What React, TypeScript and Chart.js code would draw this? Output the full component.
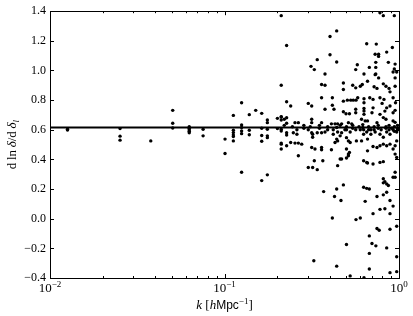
import { useEffect, useRef } from "react";
import { Chart, registerables } from "chart.js";

Chart.register(...registerables);

// Measured response d ln δ / d δ_l per k-bin: [k, values at that k]
const lowKColumns: [number, number[]][] = [
  [0.0126, [0.604, 0.598]],
  [0.0252, [0.608, 0.557, 0.53]],
  [0.0378, [0.525]],
  [0.0505, [0.731, 0.644, 0.612]],
  [0.0628, [0.62, 0.61, 0.6, 0.59, 0.58]],
  [0.0754, [0.604, 0.559]],
  [0.1007, [0.537, 0.44]],
  [0.1124, [0.697, 0.597, 0.581, 0.565, 0.554, 0.525]],
  [0.1253, [0.782, 0.633, 0.615, 0.592, 0.574, 0.313]],
  [0.1387, [0.702, 0.597, 0.566]],
  [0.151, [0.731]],
  [0.1634, [0.711, 0.61, 0.561, 0.523, 0.257]],
  [0.176, [0.666, 0.648, 0.604, 0.559, 0.547, 0.296]],
  [0.201, [0.677, 0.608]],
];

const midKColumns: [number, number[]][] = [
  [0.2114, [1.37, 0.9, 0.686, 0.666, 0.604, 0.592, 0.51, 0.47, 0.688, 0.503]],
  [0.22, [0.671, 0.63]],
  [0.227, [1.169, 0.789, 0.681, 0.644, 0.58, 0.564, 0.492]],
  [0.2395, [0.76, 0.514]],
  [0.245, [0.62]],
  [0.248, [0.58]],
  [0.2535, [0.648, 0.51]],
  [0.26, [0.6, 0.57]],
  [0.265, [0.648, 0.51, 0.425]],
  [0.277, [0.503]],
  [0.285, [0.61, 0.63]],
  [0.302, [0.778, 0.6, 0.346]],
  [0.31, [0.62]],
  [0.3131, [1.028]],
  [0.316, [0.76, 0.671, 0.648, 0.58, 0.48]],
  [0.32, [0.57, 0.55, 0.346]],
  [0.325, [-0.284]],
  [0.3271, [1.006, 0.391]],
  [0.33, [0.47]],
  [0.34, [1.073, 0.58, 0.331]],
  [0.35, [0.61, 0.63]],
  [0.36, [0.905, 0.816, 0.648, 0.58, 0.48, 0.465]],
  [0.366, [0.391]],
  [0.37, [0.183]],
  [0.3767, [0.976, 0.9, 0.738, 0.585]],
  [0.39, [0.62, 0.6]],
  [0.4024, [1.229, 1.106]],
  [0.41, [0.64, 0.465]],
  [0.415, [0.816, 0.765, 0.005]],
  [0.42, [0.6, 0.57]],
  [0.424, [0.738]],
  [0.427, [0.15]],
  [0.43, [0.64, 0.514]],
  [0.4395, [1.267, 1.057, 0.537, 0.2, -0.32, 0.615]],
  [0.445, [0.64, 0.585, 0.525, 0.358]],
  [0.46, [0.559, 0.403, 0.63]],
  [0.465, [0.123]],
  [0.469, [0.64, 0.58, 0.403]],
  [0.48, [0.916, 0.872, 0.793, 0.722, 0.228]],
  [0.49, [0.6]],
  [0.497, [0.708]],
];

const highKColumns: [number, number[]][] = [
  [0.5, [0.547, 0.47, 0.41, -0.174, 0.62, 0.6]],
  [0.506, [0.8]],
  [0.513, [0.648, 0.525, 0.436, 0.425]],
  [0.52, [0.708, 0.447]],
  [0.525, [0.585, 0.514, -0.386]],
  [0.529, [0.8]],
  [0.536, [0.64]],
  [0.543, [0.9, 0.61, 0.63]],
  [0.547, [0.8]],
  [0.565, [1.006, 0.883, 0.738, 0.715, 0.6]],
  [0.567, [0.8, -0.006]],
  [0.57, [0.525]],
  [0.5768, [1.039]],
  [0.58, [0.816]],
  [0.59, [0.62]],
  [0.6, [0.894, 0.6, 0.005]],
  [0.61, [0.671, 0.525]],
  [0.616, [0.905]],
  [0.62, [0.615, 0.635]],
  [0.627, [0.391, 0.212, 0.6, 0.57]],
  [0.63, [0.976, 0.809, 0.782, 0.744, 0.726, 0.704, -0.398]],
  [0.64, [0.66, 0.117]],
  [0.653, [1.18, 0.38, 0.205, 0.585]],
  [0.66, [0.927, 0.537, 0.458, 0.376, 0.66]],
  [0.67, [0.62, 0.6]],
  [0.676, [1.021, 0.2, -0.116, -0.234, -0.339]],
  [0.68, [0.816]],
  [0.69, [0.6, 0.57]],
  [0.7, [0.715, -0.167]],
  [0.71, [0.805, 0.748, 0.487, 0.369, 0.034]],
  [0.72, [0.89, 0.62, 0.6]],
  [0.73, [1.11, 0.972, 0.585]],
  [0.736, [1.055, 1.021, 0.976]],
  [0.737, [-0.183]],
  [0.741, [1.178]],
  [0.748, [0.879, 0.648, 0.48, -0.066, 0.15]],
  [0.76, [0.61, 0.63]],
  [0.764, [1.11, 1.095, 0.95]],
  [0.77, [-0.078]],
  [0.778, [1.39, 0.816, 0.704, 0.492, 0.38, 0.063, 0.57]],
  [0.79, [0.6]],
  [0.8, [0.778]],
  [0.813, [1.37, 0.91, 0.682, 0.503, 0.385, 0.55, 0.27, 0.242, 0.161]],
  [0.82, [0.805]],
  [0.83, [0.726, 0.067, 0.25]],
  [0.842, [0.894, 0.671, 0.62, 0.61]],
  [0.85, [1.124, 0.748, 0.492, 0.585, 0.235, 0.179, -0.197]],
  [0.869, [1.055, 0.224]],
  [0.877, [0.879, 0.6, 0.63]],
  [0.888, [0.856, 0.76, 0.503, 0.57, 0.034, -0.071, -0.364, 0.123]],
  [0.91, [0.61]],
  [0.916, [1.155]],
  [0.925, [0.99, 0.816, 0.715, 0.66, 0.47, 0.28, 0.6, 0.085]],
  [0.94, [1.37, 1.01, 0.62, 0.59]],
  [0.95, [1.043, 0.95, 0.894, 0.731, 0.65, 0.492, 0.436, 0.313, 0.28]],
  [0.955, [0.782]],
  [0.97, [0.99, 0.525, 0.413, 0.585, -0.051, -0.257, -0.357]],
  [0.98, [0.6, 0.63, 0.61]],
];

const fitValue = 0.615;
const xMin = 0.01;
const xMax = 1;
const yMin = -0.4;
const yMax = 1.4;
const yStep = 0.2;
const xMajorTicks = [0.01, 0.1, 1];
const xTickExponents = ["\u22122", "\u22121", "0"];
const xMinorMultipliers = [2, 3, 4, 5, 6, 7, 8, 9];

const SERIF = "'Liberation Serif', 'DejaVu Serif', serif";
const SANS = "'Liberation Sans', 'DejaVu Sans', sans-serif";

type Seg = { text: string; font: string; dy?: number };

function drawRich(ctx: CanvasRenderingContext2D, segs: Seg[], cx: number, y: number) {
  let total = 0;
  const widths = segs.map((s) => {
    ctx.font = s.font;
    const w = ctx.measureText(s.text).width;
    total += w;
    return w;
  });
  let x = cx - total / 2;
  ctx.textAlign = "left";
  ctx.textBaseline = "alphabetic";
  segs.forEach((s, i) => {
    ctx.font = s.font;
    ctx.fillText(s.text, x, y + (s.dy || 0));
    x += widths[i];
  });
}

const framePlugin = {
  id: "mplFrame",
  afterDraw(chart: any) {
    const { ctx, chartArea } = chart;
    const { left, right, top, bottom } = chartArea;
    const xs = chart.scales.x;
    const ys = chart.scales.y;
    ctx.save();
    ctx.strokeStyle = "#000";
    ctx.fillStyle = "#000";
    ctx.lineWidth = 1;
    ctx.strokeRect(Math.round(left) + 0.5, Math.round(top) + 0.5, Math.round(right - left), Math.round(bottom - top));

    ctx.beginPath();
    const majorLen = 4;
    const minorLen = 2;
    xMajorTicks.forEach((v) => {
      const px = Math.round(xs.getPixelForValue(v)) + 0.5;
      ctx.moveTo(px, bottom);
      ctx.lineTo(px, bottom - majorLen);
      ctx.moveTo(px, top);
      ctx.lineTo(px, top + majorLen);
    });
    xMajorTicks.slice(0, -1).forEach((base) => {
      xMinorMultipliers.forEach((m) => {
        const px = Math.round(xs.getPixelForValue(base * m)) + 0.5;
        ctx.moveTo(px, bottom);
        ctx.lineTo(px, bottom - minorLen);
        ctx.moveTo(px, top);
        ctx.lineTo(px, top + minorLen);
      });
    });
    for (let v = yMin; v <= yMax + 1e-9; v += yStep) {
      const py = Math.round(ys.getPixelForValue(v)) + 0.5;
      ctx.moveTo(left, py);
      ctx.lineTo(left + majorLen, py);
      ctx.moveTo(right, py);
      ctx.lineTo(right - majorLen, py);
    }
    ctx.stroke();

    xMajorTicks.forEach((v, i) => {
      const px = xs.getPixelForValue(v);
      drawRich(
        ctx,
        [
          { text: "10", font: `13px ${SERIF}` },
          { text: xTickExponents[i], font: `9px ${SERIF}`, dy: -5 },
        ],
        px,
        bottom + 14
      );
    });

    const cx = (left + right) / 2;
    drawRich(
      ctx,
      [
        { text: "k", font: `italic 13px ${SERIF}` },
        { text: " [", font: `13px ${SERIF}` },
        { text: "h", font: `italic 13px ${SERIF}` },
        { text: "Mpc", font: `12px ${SANS}` },
        { text: "\u22121", font: `9px ${SERIF}`, dy: -5 },
        { text: "]", font: `13px ${SERIF}` },
      ],
      cx,
      bottom + 31
    );

    ctx.save();
    ctx.translate(16, (top + bottom) / 2);
    ctx.rotate(-Math.PI / 2);
    drawRich(
      ctx,
      [
        { text: "d\u2009ln\u2009", font: `13px ${SERIF}` },
        { text: "\u03b4", font: `italic 13px ${SERIF}` },
        { text: "/d\u2009", font: `13px ${SERIF}` },
        { text: "\u03b4", font: `italic 13px ${SERIF}` },
        { text: "l", font: `italic 9px ${SERIF}`, dy: 3 },
      ],
      0,
      0
    );
    ctx.restore();
    ctx.restore();
  },
};

export default function App() {
  const canvasRef = useRef<HTMLCanvasElement | null>(null);

  useEffect(() => {
    if (!canvasRef.current) return;
    const points = [...lowKColumns, ...midKColumns, ...highKColumns].flatMap(([k, vals]) =>
      vals.map((v) => ({ x: k, y: v }))
    );
    const chart = new Chart(canvasRef.current, {
      type: "scatter",
      data: {
        datasets: [
          {
            data: [
              { x: xMin, y: fitValue },
              { x: xMax, y: fitValue },
            ],
            showLine: true,
            borderColor: "#000",
            borderWidth: 2,
            pointRadius: 0,
          } as any,
          {
            data: points,
            backgroundColor: "#000",
            borderWidth: 0,
            pointRadius: 1.7,
          },
        ],
      },
      options: {
        responsive: false,
        animation: false,
        devicePixelRatio: 1,
        layout: { padding: { top: 10, right: 14, left: 0, bottom: 0 } },
        plugins: { legend: { display: false }, tooltip: { enabled: false } },
        scales: {
          x: {
            type: "logarithmic",
            min: xMin,
            max: xMax,
            ticks: { display: false },
            grid: { display: false },
            border: { display: false },
            afterFit: (s: any) => {
              s.height = 38;
            },
          },
          y: {
            type: "linear",
            min: yMin,
            max: yMax,
            ticks: {
              stepSize: yStep,
              color: "#000",
              padding: 4,
              font: { family: SERIF, size: 12 },
              callback: (v: any) => {
                const n = Number(v);
                const s = Math.abs(n).toFixed(1);
                return n < -1e-9 ? "\u2212" + s : s;
              },
            },
            grid: { display: false, drawTicks: false },
            border: { display: false },
            afterFit: (s: any) => {
              s.width = 50;
            },
          },
        },
      } as any,
      plugins: [framePlugin],
    });
    return () => chart.destroy();
  }, []);

  return (
    <div style={{ position: "fixed", left: 0, top: 0, width: 413, height: 316, background: "#fff" }}>
      <canvas ref={canvasRef} width={413} height={316} style={{ display: "block" }} />
    </div>
  );
}
